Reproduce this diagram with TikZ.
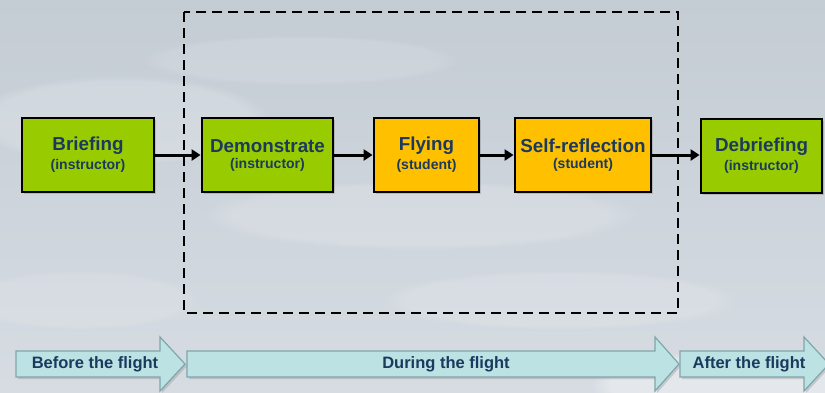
\documentclass[tikz,border=0pt]{standalone}
\usepackage{fontspec}
\setmainfont{Liberation Sans}
\usetikzlibrary{arrows.meta,shadows,fadings}

\definecolor{skytop}{HTML}{C4CCD4}
\definecolor{skybot}{HTML}{D6DCE2}
\definecolor{leaf}{HTML}{99CC00}
\definecolor{amber}{HTML}{FFC000}
\definecolor{ink}{HTML}{1B3A5E}
\definecolor{phasefill}{HTML}{BCE2E3}
\definecolor{phaseedge}{HTML}{7FA6AB}

\tikzset{
  stepbox/.style={draw=black, line width=2.8pt, minimum height=74pt,
    align=center, text=ink, inner sep=0pt,
    drop shadow={shadow xshift=2pt, shadow yshift=-2pt, opacity=0.35}},
  greenbox/.style={stepbox, fill=leaf},
  orangebox/.style={stepbox, fill=amber},
  flow/.style={line width=3pt, -{Triangle[length=9pt,width=11pt]}},
  phasearrow/.style={fill=phasefill, draw=phaseedge, line width=1.2pt,
    drop shadow={shadow xshift=2pt, shadow yshift=-2pt, opacity=0.3}},
  phaselabel/.style={text=ink, font=\bfseries\fontsize{16.5}{18}\selectfont,
    inner sep=0pt},
  cloud/.style={white, path fading=circle with fuzzy edge 15 percent}
}

\newcommand{\steptext}[2]{{\bfseries\fontsize{18.8}{20}\selectfont #1}\\[4pt]%
  {\bfseries\fontsize{14}{14}\selectfont #2}}

\begin{document}
\begin{tikzpicture}[x=1pt,y=-1pt]
  % canvas and sky
  \useasboundingbox (0,0) rectangle (825,392);
  \clip (0,0) rectangle (825,392);
  \shade[top color=skytop, bottom color=skybot] (0,0) rectangle (825,392);
  \fill[cloud, opacity=0.18] (120,120) ellipse (150 and 45);
  \fill[cloud, opacity=0.15] (420,215) ellipse (220 and 35);
  \fill[cloud, opacity=0.12] (300,60) ellipse (160 and 25);
  \fill[cloud, opacity=0.35] (730,385) ellipse (140 and 35);
  \fill[cloud, opacity=0.15] (560,300) ellipse (180 and 30);
  \fill[cloud, opacity=0.12] (80,300) ellipse (120 and 30);

  % in-flight frame
  \draw[line width=2.8pt, dash pattern=on 10pt off 6pt] (184,12) rectangle (678,313);

  % steps
  \node[greenbox, minimum width=132pt] (brief) at (88,155)
    {\steptext{Briefing}{(instructor)}};
  \node[greenbox, minimum width=131pt] (demo) at (267.5,155)
    {\steptext{Demonstrate}{(instructor)}};
  \node[orangebox, minimum width=105pt] (fly) at (426.5,155)
    {\steptext{Flying}{(student)}};
  \node[orangebox, minimum width=136pt] (reflect) at (583,155)
    {\steptext{Self-reflection}{(student)}};
  \node[greenbox, minimum width=121pt] (debrief) at (761.5,156)
    {\steptext{Debriefing}{(instructor)}};

  \draw[flow] (brief) -- (demo);
  \draw[flow] (demo) -- (fly);
  \draw[flow] (fly) -- (reflect);
  \draw[flow] (reflect.east) -- (debrief.west |- reflect.east);

  % phases along the bottom
  \draw[phasearrow] (16,351) -- (160,351) -- (160,337) -- (185,364)
    -- (160,391) -- (160,377) -- (16,377) -- cycle;
  \draw[phasearrow] (187,351) -- (655,351) -- (655,337) -- (679,364)
    -- (655,391) -- (655,377) -- (187,377) -- cycle;
  \draw[phasearrow] (680,351) -- (804,351) -- (804,337) -- (829,364)
    -- (804,391) -- (804,377) -- (680,377) -- cycle;

  \node[phaselabel] (before) at (95,364) {Before the flight};
  \node[phaselabel] (during) at (446,364) {During the flight};
  \node[phaselabel] (after) at (749,364) {After the flight};
\end{tikzpicture}
\end{document}
